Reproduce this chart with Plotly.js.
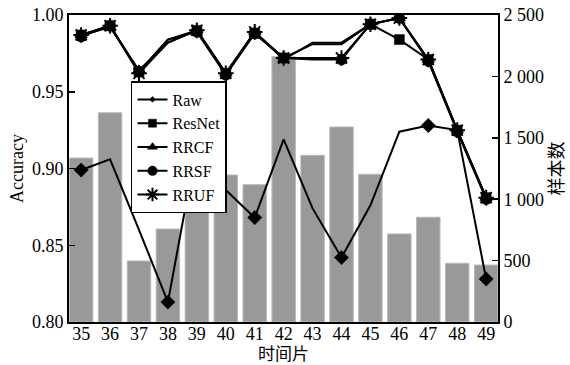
<!DOCTYPE html>
<html>
<head>
<meta charset="utf-8">
<script src="https://cdn.plot.ly/plotly-3.0.1.min.js"></script>
<style>html,body{margin:0;padding:0;background:#fff;}#chart{width:570px;height:365px;}</style>
</head>
<body>
<div id="chart"></div>
<script>
// ---- data ----
const timeSlices = [35, 36, 37, 38, 39, 40, 41, 42, 43, 44, 45, 46, 47, 48, 49];
const sampleCounts = [1335, 1704, 497, 757, 1250, 1197, 1118, 2160, 1357, 1588, 1203, 717, 853, 478, 464];
const accRaw    = [0.899, 0.906, 0.860, 0.813, 0.915, 0.886, 0.868, 0.919, 0.874, 0.842, 0.876, 0.924, 0.928, 0.925, 0.828];
const accResNet = [0.987, 0.993, 0.963, 0.984, 0.990, 0.962, 0.988, 0.972, 0.981, 0.981, 0.994, 0.984, 0.971, 0.925, 0.881];
const accRRCF   = [0.987, 0.992, 0.964, 0.982, 0.990, 0.962, 0.989, 0.971, 0.982, 0.982, 0.994, 0.998, 0.971, 0.925, 0.881];
const accRRSF   = [0.986, 0.993, 0.963, 0.984, 0.989, 0.961, 0.988, 0.972, 0.971, 0.971, 0.994, 0.998, 0.970, 0.924, 0.880];
const accRRUF   = [0.987, 0.993, 0.962, 0.982, 0.990, 0.962, 0.989, 0.972, 0.972, 0.972, 0.994, 0.998, 0.971, 0.925, 0.881];
const seriesNames = ['Raw', 'ResNet', 'RRCF', 'RRSF', 'RRUF'];
const xTitle = '时间片';
const yLeftTitle = 'Accuracy';
const yRightTitle = '样本数';

// ---- style ----
const FONT = 'Liberation Serif, Times New Roman, serif';
const CJK = 'Liberation Serif, Noto Sans CJK SC, serif';
function sizes(n, size, hidden, shownOnly) {
  const out = [];
  for (let i = 0; i < n; i++) {
    let show = shownOnly ? shownOnly.includes(i) : !hidden.includes(i);
    out.push(show ? size : 0);
  }
  return out;
}
const n = timeSlices.length;
const styles = [
  {symbol: 'diamond', size: sizes(n, 11, null, [0, 3, 6, 9, 12, 14])},
  {symbol: 'square', size: sizes(n, 10, [3, 8, 9])},
  {symbol: 'triangle-up', size: sizes(n, 11, [3, 8, 9])},
  {symbol: 'circle', size: sizes(n, 11, [3, 8])},
  {symbol: 'asterisk-open', size: sizes(n, 13, [3, 8])}
];
const series = [accRaw, accResNet, accRRCF, accRRSF, accRRUF];

const traces = [{
  type: 'bar', x: timeSlices, y: sampleCounts, yaxis: 'y', xaxis: 'x',
  width: 0.81, showlegend: false,
  marker: {color: '#999999', line: {color: '#b8b8b8', width: 1}},
  hoverinfo: 'skip'
}];
series.forEach((s, k) => {
  const ast = styles[k].symbol === 'asterisk-open';
  traces.push({
    type: 'scatter', mode: 'lines+markers', name: seriesNames[k],
    x: timeSlices, y: s, yaxis: 'y2', xaxis: 'x',
    line: {color: '#000000', width: 2},
    marker: {symbol: styles[k].symbol, size: styles[k].size, color: '#000000', opacity: 1,
             line: {color: '#000000', width: ast ? 2 : 0.5}}
  });
});

const layout = {
  width: 570, height: 365,
  margin: {l: 69, r: 72, t: 15, b: 43},
  paper_bgcolor: '#fff', plot_bgcolor: '#fff',
  font: {family: FONT, size: 18, color: '#000'},
  separators: '. ',
  showlegend: true,
  legend: {
    x: 0.1445, y: 0.785, xanchor: 'left', yanchor: 'top',
    bgcolor: '#fff', bordercolor: '#000', borderwidth: 1.5,
    font: {family: FONT, size: 16, color: '#000'},
    tracegroupgap: 0, itemwidth: 30
  },
  xaxis: {
    range: [34.58, 49.41], tickmode: 'array', tickvals: timeSlices,
    ticktext: timeSlices.map(String),
    showline: true, linecolor: '#000', linewidth: 2, mirror: true,
    ticks: '', showgrid: false, zeroline: false, ticklabelstandoff: -6,
    tickfont: {family: FONT, size: 18}
  },
  yaxis: {
    side: 'right', range: [0, 2500], dtick: 500, tickformat: ',d',
    showline: true, linecolor: '#000', linewidth: 2,
    ticks: 'inside', ticklen: 6, tickwidth: 1.5, tickcolor: '#000',
    showgrid: false, zeroline: false,
    tickfont: {family: FONT, size: 18},
    title: {text: yRightTitle, font: {family: CJK, size: 18}, standoff: 7}
  },
  yaxis2: {
    side: 'left', overlaying: 'y', range: [0.8, 1.0], dtick: 0.05, tickformat: '.2f',
    showline: true, linecolor: '#000', linewidth: 2,
    ticks: 'inside', ticklen: 6, tickwidth: 1.5, tickcolor: '#000',
    showgrid: false, zeroline: false,
    tickfont: {family: FONT, size: 18},
    title: {text: yLeftTitle, font: {family: FONT, size: 18}, standoff: 4}
  },
  annotations: [{
    text: xTitle, xref: 'paper', yref: 'paper', x: 0.5, y: -0.107,
    xanchor: 'center', yanchor: 'middle', showarrow: false,
    font: {family: CJK, size: 17, color: '#000'}
  }]
};
Plotly.newPlot('chart', traces, layout, {staticPlot: true, displayModeBar: false});
</script>
</body>
</html>
